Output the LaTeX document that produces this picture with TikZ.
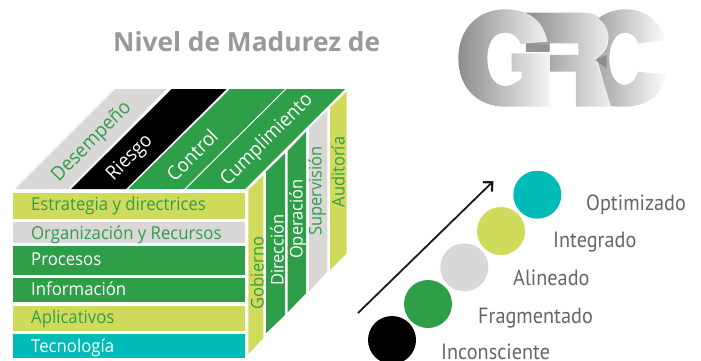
\documentclass[tikz,border=0pt]{standalone}
\usepackage{fontspec}
\setmainfont{Open Sans}
\newfontfamily\titlefont{Open Sans}
\newfontfamily\levelfont{PT Sans}
\usetikzlibrary{arrows.meta}
\definecolor{cgreen}{HTML}{2F9E49}
\definecolor{cyellow}{HTML}{D0DB5B}
\definecolor{cgrey}{HTML}{DAD7D7}
\definecolor{cteal}{HTML}{00BBB6}
\definecolor{clevel}{HTML}{666666}
\definecolor{ctitle}{HTML}{999999}
\tikzset{
 rowlabel/.style={anchor=base west,inner sep=0pt,font=\fontsize{17.8}{20}\selectfont,xscale=0.94},
 toplabel/.style={inner sep=0pt,rotate=45,font=\fontsize{19.5}{22}\selectfont,xscale=0.94},
 sidelabel/.style={inner sep=0pt,rotate=90,font=\fontsize{17.5}{20}\selectfont,xscale=0.94},
 levellabel/.style={anchor=base west,inner sep=0pt,text=clevel,font=\levelfont\fontsize{22}{26}\selectfont,xscale=0.92},
 level/.style={circle,minimum size=48pt,inner sep=0pt,fill=#1},
}
\begin{document}
\begin{tikzpicture}[x=1pt,y=-1pt]
\useasboundingbox (0,0) rectangle (701,361);
% title
\node[anchor=base west,inner sep=0pt,text=ctitle,font=\titlefont\bfseries\fontsize{26.3}{32}\selectfont] (title) at (113,52) {Nivel de Madurez de};
% logo
\begin{scope}[shift={(450,0)},x=0.3333pt,y=-0.3333pt]
\shade[left color=black!45,right color=black!6]
 (228,38) -- (400,38) .. controls (450,38) and (475,70) .. (475,105)
 .. controls (475,140) and (455,165) .. (435,175) -- (485,320) -- (378,320) -- (378,215) -- (300,215) -- (300,165) -- (385,165)
 -- (385,130) -- (300,130) -- (300,155) -- (228,155) -- cycle;
\shade[left color=black!45,right color=black!4]
 (292,125) .. controls (280,60) and (235,28) .. (165,28)
 .. controls (80,28) and (25,90) .. (25,175)
 .. controls (25,265) and (85,320) .. (165,320)
 -- (300,320) -- (300,160) -- (185,160) -- (185,215) -- (215,215) -- (215,235)
 .. controls (200,250) and (180,258) .. (165,258)
 .. controls (130,258) and (112,220) .. (112,175)
 .. controls (112,130) and (130,98) .. (165,98)
 .. controls (190,98) and (205,112) .. (212,132) -- cycle;
\fill[black!42] (228,135) rectangle (298,155);
\shade[left color=black!35,right color=black!1]
 (445,55) .. controls (465,40) and (490,28) .. (530,28)
 .. controls (580,28) and (630,60) .. (645,120) -- (565,130)
 .. controls (555,105) and (540,98) .. (525,98)
 .. controls (495,98) and (478,135) .. (478,175)
 .. controls (478,220) and (495,255) .. (525,255)
 .. controls (545,255) and (558,235) .. (565,215)
 -- (650,225) .. controls (635,285) and (590,320) .. (525,320)
 .. controls (510,320) and (490,320) .. (483,318) -- (462,250) -- (440,175)
 .. controls (465,160) and (478,135) .. (475,105) .. controls (472,80) and (460,65) .. (445,55) -- cycle;
\fill[black!45] (435,180) -- (470,165) -- (470,205) -- cycle;
\end{scope}
% top face
\fill[cgrey] (15,189) -- (68.3,189) -- (166.7,89) -- (115,89) -- cycle;
\fill[black] (71,189) -- (126,189) -- (226.7,89) -- (171.7,89) -- cycle;
\fill[cgreen] (128.3,189) -- (184,189) -- (285,89) -- (230,89) -- cycle;
\fill[cgreen] (186,189) -- (245,189) -- (345,89) -- (286.7,89) -- cycle;
\node[toplabel,text=cgreen] (desempeno) at (92,142) {Desempeño};
\node[toplabel,text=white] (riesgo) at (130,158) {Riesgo};
\node[toplabel,text=white] (control) at (192,155) {Control};
\node[toplabel,text=white] (cumplimiento) at (267,140) {Cumplimiento};
% right face
\fill[cyellow] (248.3,190) -- (263.3,175) -- (263.3,338.3) -- (248.3,354) -- cycle;
\fill[cgreen] (266,171.7) -- (285,153.3) -- (285,315) -- (266,333.3) -- cycle;
\fill[cgreen] (287.7,151) -- (306,131.7) -- (306,293.3) -- (287.7,312.3) -- cycle;
\fill[cgrey] (309,128.3) -- (327.3,110) -- (327.3,271.7) -- (309,291.7) -- cycle;
\fill[cyellow] (330,107.3) -- (346.7,91.7) -- (346.7,253.3) -- (330,270) -- cycle;
\node[sidelabel,text=cgreen] (gobierno) at (257,273) {Gobierno};
\node[sidelabel,text=white] (direccion) at (277,250) {Dirección};
\node[sidelabel,text=white] (operacion) at (298,219) {Operación};
\node[sidelabel,text=cgreen] (supervision) at (317,191) {Supervisión};
\node[sidelabel,text=cgreen] (auditoria) at (338,172) {Auditoría};
% front face
\fill[cyellow] (12.7,192.7) rectangle (245,218.7);
\fill[cgrey] (12.7,222.3) rectangle (245,243.3);
\fill[cgreen] (12.7,246) rectangle (245,275);
\fill[cgreen] (12.7,278) rectangle (245,301.7);
\fill[cyellow] (12.7,305.7) rectangle (245,330.7);
\fill[cteal] (12.7,334) rectangle (245,357.7);
\node[rowlabel,text=cgreen] (r1) at (31,210.5) {Estrategia y directrices};
\node[rowlabel,text=cgreen] (r2) at (31,239.5) {Organización y Recursos};
\node[rowlabel,text=white] (r3) at (31,265.5) {Procesos};
\node[rowlabel,text=white] (r4) at (31,295.5) {Información};
\node[rowlabel,text=cgreen] (r5) at (31,323) {Aplicativos};
\node[rowlabel,text=white] (r6) at (31,352.5) {Tecnología};
% levels
\node[level=black] (c1) at (392,340) {};
\node[level=cgreen] (c2) at (428,304) {};
\node[level=cgrey] (c3) at (464.3,267.3) {};
\node[level=cyellow] (c4) at (501,231) {};
\node[level=cteal] (c5) at (537.3,194.7) {};
\node[levellabel] (l1) at (441,359) {Inconsciente};
\node[levellabel] (l2) at (478,323) {Fragmentado};
\node[levellabel] (l3) at (513,285.5) {Alineado};
\node[levellabel] (l4) at (553,247.5) {Integrado};
\node[levellabel] (l5) at (586,210.5) {Optimizado};
% arrow
\coordinate (astart) at (358,313);
\coordinate (aend) at (493.5,181);
\draw[line width=1.8pt,black!90,-{Straight Barb[length=7pt,width=13pt,line width=2.2pt]}] (astart) -- (aend);
\end{tikzpicture}
\end{document}
